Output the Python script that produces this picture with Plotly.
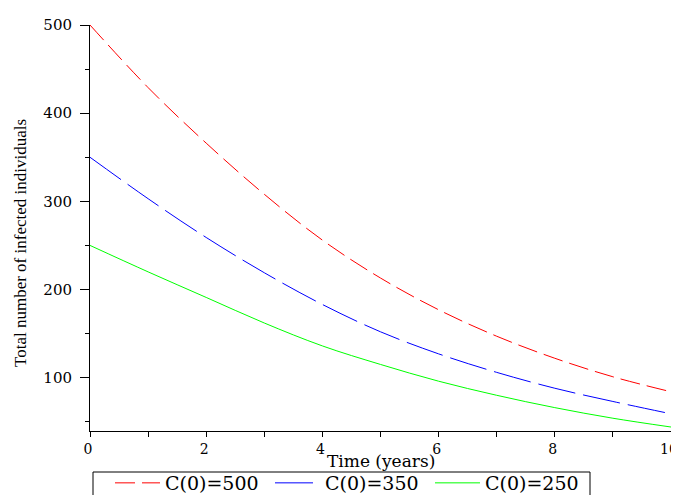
import plotly.graph_objects as go

time_years = [0, 1, 2, 3, 4, 5, 6, 7, 8, 9, 10]
c500 = [500, 429, 366, 308, 256, 213, 177, 147, 122, 101, 84]
c350 = [350, 303, 259, 219, 183, 152, 127, 106, 88, 73, 59]
c250 = [250, 220, 191, 162, 136, 115, 96, 80, 66, 54, 44]
series_names = ["C(0)=500", "C(0)=350", "C(0)=250"]
x_title = "Time (years)"
y_title = "Total number of infected individuals"

SERIF = "DejaVu Serif"
TIMES = "Liberation Serif"

# The page body adds an 8px offset; the figure is laid out so the plot
# lands where the reference has it inside the 679x495 window.
OFF = 8
FIG_W, FIG_H = 679 - OFF, 495 - OFF
PLOT_L, PLOT_R, PLOT_T, PLOT_B = 90, 671, 25, 431   # page pixels
PW, PH = PLOT_R - PLOT_L, PLOT_B - PLOT_T


def px_x(x):
    return (x - PLOT_L) / PW


def px_y(y):
    return (PLOT_B - y) / PH


fig = go.Figure()
fig.add_trace(go.Scatter(x=time_years, y=c500, mode="lines", name=series_names[0],
                         line=dict(color="#ff0000", width=1, dash="20px,7px", shape="spline")))
fig.add_trace(go.Scatter(x=time_years, y=c350, mode="lines", name=series_names[1],
                         line=dict(color="#0000ff", width=1, dash="38px,8px", shape="spline")))
fig.add_trace(go.Scatter(x=time_years, y=c250, mode="lines", name=series_names[2],
                         line=dict(color="#00ff00", width=1, shape="spline")))

fig.update_layout(
    width=FIG_W, height=FIG_H,
    margin=dict(l=PLOT_L - OFF, r=FIG_W + OFF - PLOT_R, t=PLOT_T - OFF,
                b=FIG_H + OFF - PLOT_B),
    paper_bgcolor="white", plot_bgcolor="white",
    font=dict(family=SERIF, size=15, color="black"),
    showlegend=True,
    legend=dict(orientation="h", x=px_x(110), xanchor="left",
                yref="container", y=1 - (464 - OFF) / FIG_H, yanchor="top",
                borderwidth=0, bgcolor="rgba(0,0,0,0)",
                font=dict(family=SERIF, size=19), entrywidth=100, itemwidth=45,
                tracegroupgap=0),
    xaxis=dict(range=[0, 10], showgrid=False, zeroline=False, showline=True,
               linecolor="black", linewidth=1, ticks="outside", ticklen=5,
               tickcolor="black", dtick=2, tick0=0, automargin=False,
               ticklabeloverflow="allow", ticklabelshift=-2,
               tickfont=dict(size=14),
               minor=dict(dtick=1, ticks="outside", ticklen=5, tickcolor="black")),
    yaxis=dict(range=[39.5, 500], showgrid=False, zeroline=False, showline=True,
               linecolor="black", linewidth=1, ticks="outside", ticklen=9,
               tickcolor="black", dtick=100, tick0=0, ticklabelstandoff=5,
               automargin=False, ticklabeloverflow="allow",
               minor=dict(dtick=50, ticks="outside", ticklen=4, tickcolor="black")),
    shapes=[
        dict(type="rect", xref="paper", yref="paper",
             x0=px_x(93), x1=px_x(590), y0=px_y(472), y1=px_y(505),
             line=dict(color="black", width=1), fillcolor="rgba(0,0,0,0)"),
    ],
    annotations=[
        dict(text=x_title, xref="paper", yref="paper", x=0.5, y=px_y(461),
             xanchor="center", yanchor="middle", showarrow=False,
             font=dict(family=SERIF, size=17)),
        dict(text=y_title, xref="paper", yref="paper", x=px_x(20),
             y=px_y(243), xanchor="center", yanchor="middle",
             textangle=-90, showarrow=False, font=dict(family=TIMES, size=17)),
    ],
)

fig.write_html("out.html")
